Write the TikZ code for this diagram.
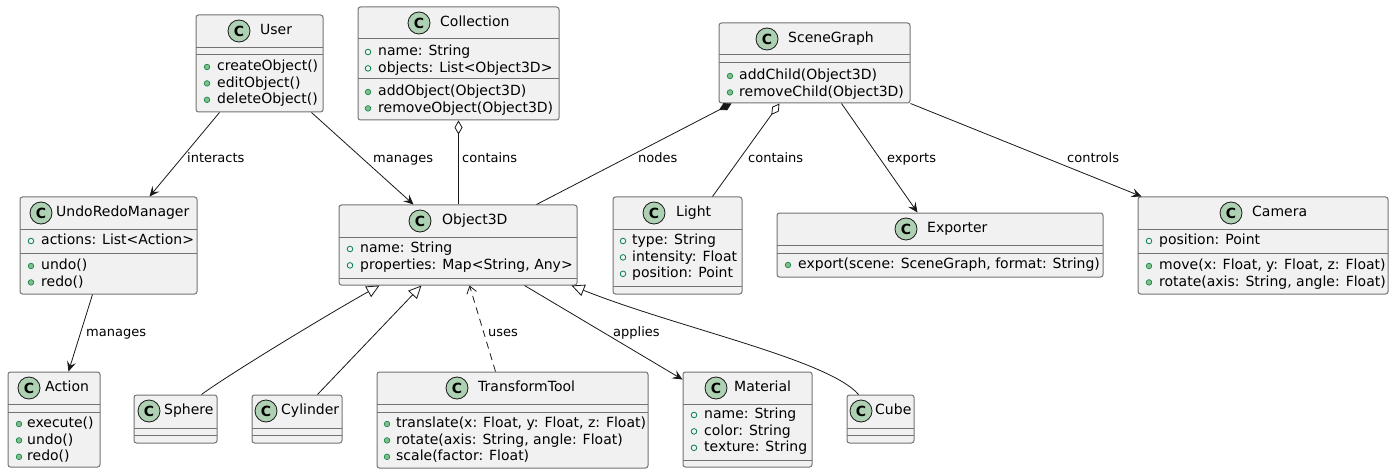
\documentclass[tikz,border=0pt]{standalone}
\usepackage{fontspec}
\setmainfont{DejaVu Sans}
\usetikzlibrary{arrows.meta,fit}
\definecolor{boxfill}{HTML}{F1F1F1}
\definecolor{boxline}{HTML}{181818}
\definecolor{cfill}{HTML}{ADD1B2}
\definecolor{icline}{HTML}{038048}
\definecolor{icfill}{HTML}{84BE84}
\tikzset{
  clsbox/.style={draw=black!55, line width=1pt, fill=boxfill, rounded corners=2.5pt, inner sep=0pt},
  sepline/.style={draw=black!55, line width=1pt},
  cicon/.style={circle, draw=boxline, line width=0.8pt, fill=cfill, minimum size=22pt, inner sep=0pt, font=\fontsize{14}{14}\selectfont\bfseries},
  ttl/.style={anchor=west, inner sep=0pt, text height=10.5pt, text depth=3pt, font=\fontsize{14}{16}\selectfont},
  mem/.style={anchor=west, inner sep=0pt, text height=10.5pt, text depth=3pt, font=\fontsize{14}{16}\selectfont},
  lbl/.style={anchor=west, inner sep=0pt, text height=9.5pt, text depth=3pt, font=\fontsize{13}{15}\selectfont},
  fldicon/.style={draw=icline, line width=0.8pt},
  mthicon/.style={draw=icline, line width=0.6pt, fill=icfill},
  conn/.style={draw=boxline, line width=0.8pt},
  assoc/.style={conn, -{Stealth[length=10pt,width=9pt,inset=4pt]}},
  gen/.style={conn, -{Triangle[length=13pt,width=12pt,fill=white]}},
  aggr/.style={conn, {Diamond[length=14pt,width=8pt,fill=white]}-},
  comp/.style={conn, {Diamond[length=14pt,width=8pt]}-},
  dep/.style={conn, dash pattern=on 7pt off 5pt, -{Straight Barb[length=7pt,width=10pt]}},
}
% name, x1, y1, x2, y2
\newcommand\cls[5]{\node[clsbox, fit={(#2,#3)(#4,#5)}] (#1) {};}
% name, circle x, y, text x, title
\newcommand\ttlrow[5]{\node[cicon] (#1-c) at (#2,#3) {C};\node[ttl] (#1-t) at (#4,#3) {#5};}
% x1, x2, y
\newcommand\sepl[3]{\draw[sepline] (#1,#3) -- (#2,#3);}
% prefix, icon style, icon x, text x, first y, list
\newcommand\members[6]{%
  \foreach \t [count=\i] in {#6} {
    \pgfmathsetmacro\yy{#5+(\i-1)*16.4}
    \draw[#2] (#3,\yy) circle (2.8pt);
    \node[mem] (#1-\i) at (#4,\yy) {\t};
  }}
\begin{document}
\begin{tikzpicture}[x=1pt,y=-1pt]
\fill[white] (0,0) rectangle (1394,473);
\useasboundingbox (0,0) rectangle (1394,473);

% User
\cls{User}{196}{15}{323}{112}
\ttlrow{User}{239}{31}{260}{User}
\sepl{196}{323}{48}\sepl{196}{323}{55}
\members{Userm}{mthicon}{207}{217}{67}{createObject(), editObject(), deleteObject()}

% Collection
\cls{Coll}{358}{7}{559}{120}
\ttlrow{Coll}{419}{23}{440}{Collection}
\sepl{358}{559}{39}\sepl{358}{559}{79}
\members{Collf}{fldicon}{368}{378}{52}{name: String, objects: List<Object3D>}
\members{Collm}{mthicon}{368}{378}{92}{addObject(Object3D), removeObject(Object3D)}

% SceneGraph
\cls{SG}{719}{23}{910}{103}
\ttlrow{SG}{767}{39}{788}{SceneGraph}
\sepl{719}{910}{55}\sepl{719}{910}{63}
\members{SGm}{mthicon}{730}{739}{76}{addChild(Object3D), removeChild(Object3D)}

% UndoRedoManager
\cls{Undo}{20}{197}{197}{294}
\ttlrow{Undo}{41}{213}{56}{UndoRedoManager}
\sepl{20}{197}{229}\sepl{20}{197}{253}
\members{Undof}{fldicon}{31}{41}{241}{actions: List<Action>}
\members{Undom}{mthicon}{31}{41}{266}{undo(), redo()}

% Object3D
\cls{Obj}{339}{205}{577}{285}
\ttlrow{Obj}{420}{221}{442}{Object3D}
\sepl{339}{577}{237}\sepl{339}{577}{278}
\members{Objf}{fldicon}{350}{360}{249}{name: String, properties: Map<String{,} Any>}

% Light
\cls{Light}{613}{197}{742}{294}
\ttlrow{Light}{654}{213}{676}{Light}
\sepl{613}{742}{229}\sepl{613}{742}{286}
\members{Lightf}{fldicon}{623}{632}{241}{type: String, intensity: Float, position: Point}

% Exporter
\cls{Exp}{777}{213}{1103}{277}
\ttlrow{Exp}{906}{229}{927}{Exporter}
\sepl{777}{1103}{245}\sepl{777}{1103}{253}
\members{Expm}{mthicon}{788}{798}{265}{{export(scene: SceneGraph, format: String)}}

% Camera
\cls{Cam}{1138}{197}{1388}{294}
\ttlrow{Cam}{1231}{213}{1252}{Camera}
\sepl{1138}{1388}{229}\sepl{1138}{1388}{253}
\members{Camf}{fldicon}{1149}{1159}{241}{position: Point}
\members{Camm}{mthicon}{1149}{1159}{266}{{move(x: Float, y: Float, z: Float)}, {rotate(axis: String, angle: Float)}}

% Action
\cls{Act}{8}{372}{100}{467}
\ttlrow{Act}{29}{388}{45}{Action}
\sepl{8}{100}{404}\sepl{8}{100}{412}
\members{Actm}{mthicon}{19}{27}{424}{execute(), undo(), redo()}

% Sphere
\cls{Sph}{134}{395}{217}{443}
\ttlrow{Sph}{149}{411}{164}{Sphere}
\sepl{134}{217}{428}\sepl{134}{217}{435}

% Cylinder
\cls{Cyl}{252}{395}{342}{443}
\ttlrow{Cyl}{266}{411}{281}{Cylinder}
\sepl{252}{342}{428}\sepl{252}{342}{435}

% TransformTool
\cls{TT}{377}{372}{648}{468}
\ttlrow{TT}{457}{388}{478}{TransformTool}
\sepl{377}{648}{404}\sepl{377}{648}{412}
\members{TTm}{mthicon}{387}{396}{424}{{translate(x: Float, y: Float, z: Float)}, {rotate(axis: String, angle: Float)}, scale(factor: Float)}

% Material
\cls{Mat}{683}{372}{812}{467}
\ttlrow{Mat}{716}{388}{734}{Material}
\sepl{683}{812}{404}\sepl{683}{812}{460}
\members{Matf}{fldicon}{694}{704}{415}{name: String, color: String, texture: String}

% Cube
\cls{Cube}{847}{395}{914}{443}
\ttlrow{Cube}{861}{411}{875}{Cube}
\sepl{847}{914}{428}\sepl{847}{914}{435}

% Connectors
\draw[assoc] ([xshift=24pt]User.south west) -- ([xshift=130pt]Undo.north west);
\draw[assoc] ([xshift=116pt]User.south west) -- ([xshift=75pt]Obj.north west);
\draw[aggr] ([xshift=101pt]Coll.south west) -- ([xshift=120pt]Obj.north west);
\draw[comp] ([xshift=13pt]SG.south west) -- ([xshift=198pt]Obj.north west);
\draw[aggr] ([xshift=61pt]SG.south west) -- ([xshift=100pt]Light.north west);
\draw[assoc] ([xshift=123pt]SG.south west) -- ([xshift=141pt]Exp.north west);
\draw[assoc] (SG.south east) -- ([xshift=4pt]Cam.north west);
\draw[assoc] ([xshift=73pt]Undo.south west) -- ([xshift=61pt]Act.north west);
\draw[gen] ([xshift=68pt]Sph.north west) .. controls +(30,-22) and +(-45,25) .. ([xshift=41pt]Obj.south west);
\draw[gen] ([xshift=66pt]Cyl.north west) -- ([xshift=83pt]Obj.south west);
\draw[dep] ([xshift=119pt]TT.north west) -- ([xshift=131pt]Obj.south west);
\draw[assoc] ([xshift=186pt]Obj.south west) -- ([yshift=-8pt]Mat.north west);
\draw[gen] ([xshift=12pt]Cube.north west) .. controls +(-30,-35) and +(105,42) .. ([xshift=233pt]Obj.south west);

% Labels
\node[lbl] (l1) at (187,159) {interacts};
\node[lbl] (l2) at (373,159) {manages};
\node[lbl] (l3) at (462,159) {contains};
\node[lbl] (l4) at (638,159) {nodes};
\node[lbl] (l5) at (748,159) {contains};
\node[lbl] (l6) at (887,159) {exports};
\node[lbl] (l7) at (1067,159) {controls};
\node[lbl] (l8) at (86,333) {manages};
\node[lbl] (l9) at (488,333) {uses};
\node[lbl] (l10) at (613,333) {applies};
\end{tikzpicture}
\end{document}
